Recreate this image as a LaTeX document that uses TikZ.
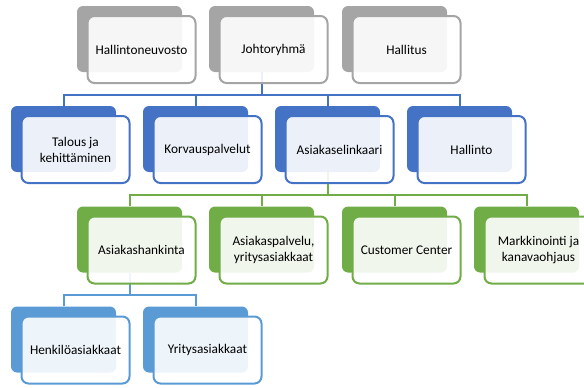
\documentclass[tikz,border=0pt]{standalone}
\usepackage{fontspec}
\setmainfont{Carlito}
\definecolor{grayD}{HTML}{A5A5A5}
\definecolor{blueD}{HTML}{4472C4}
\definecolor{greenD}{HTML}{70AD47}
\definecolor{lblueD}{HTML}{5B9BD5}
\begin{document}
\begin{tikzpicture}[x=1pt,y=-1pt,
 back/.style={rectangle, rounded corners=6pt, minimum width=105pt, minimum height=66pt, inner sep=0pt, draw=none, fill=#1},
 front/.style={rectangle, rounded corners=7pt, minimum width=108pt, minimum height=67pt, inner sep=2pt, draw=#1, line width=2pt, fill=white, fill opacity=0.9, text opacity=1, align=center, font=\fontsize{13.3}{16}\selectfont},
 conn/.style={line width=2pt, draw=#1}
]
\useasboundingbox (0,0) rectangle (584,388);
% junction coordinates
\coordinate (j1) at (261.5,94.5);
\coordinate (j2) at (327.5,194.5);
\coordinate (j3) at (129.5,295);
% back shapes (positions)
\node[back=grayD] (b11) at (129.5,39) {};
\node[back=grayD] (b12) at (261.5,39) {};
\node[back=grayD] (b13) at (394.5,39) {};
\node[back=blueD] (b21) at (63.5,139) {};
\node[back=blueD] (b22) at (195.5,139) {};
\node[back=blueD] (b23) at (327.5,139) {};
\node[back=blueD] (b24) at (459.5,139) {};
\node[back=greenD] (b31) at (129.5,239.5) {};
\node[back=greenD] (b32) at (261.5,239.5) {};
\node[back=greenD] (b33) at (394.5,239.5) {};
\node[back=greenD] (b34) at (526.5,239.5) {};
\node[back=lblueD] (b41) at (63.5,339.5) {};
\node[back=lblueD] (b42) at (195.5,339.5) {};
% connectors
\draw[conn=blueD] (b12.south) -- (j1);
\draw[conn=blueD] (b21.north) |- (j1);
\draw[conn=blueD] (b22.north) |- (j1);
\draw[conn=blueD] (b23.north) |- (j1);
\draw[conn=blueD] (b24.north) |- (j1);
\draw[conn=greenD] (b23.south) -- (j2);
\draw[conn=greenD] (b31.north) |- (j2);
\draw[conn=greenD] (b32.north) |- (j2);
\draw[conn=greenD] (b33.north) |- (j2);
\draw[conn=greenD] (b34.north) |- (j2);
\draw[conn=lblueD] (b31.south) -- (j3);
\draw[conn=lblueD] (b41.north) |- (j3);
\draw[conn=lblueD] (b42.north) |- (j3);
% front shapes with text
\node[front=grayD] (f11) at (141.5,49.5) {Hallintoneuvosto};
\node[front=grayD] (f12) at (273.5,49.5) {Johtoryhmä};
\node[front=grayD] (f13) at (406.5,49.5) {Hallitus};
\node[front=blueD] (f21) at (75.5,149.5) {Talous ja\\kehittäminen};
\node[front=blueD] (f22) at (207.5,149.5) {Korvauspalvelut};
\node[front=blueD] (f23) at (339.5,149.5) {Asiakaselinkaari};
\node[front=blueD] (f24) at (471.5,149.5) {Hallinto};
\node[front=greenD] (f31) at (141.5,250) {Asiakashankinta};
\node[front=greenD] (f32) at (273.5,250) {Asiakaspalvelu,\\yritysasiakkaat};
\node[front=greenD] (f33) at (406.5,250) {Customer Center};
\node[front=greenD] (f34) at (538.5,250) {Markkinointi ja\\kanavaohjaus};
\node[front=lblueD] (f41) at (75.5,350) {Henkilöasiakkaat};
\node[front=lblueD] (f42) at (207.5,350) {Yritysasiakkaat};
\end{tikzpicture}
\end{document}
